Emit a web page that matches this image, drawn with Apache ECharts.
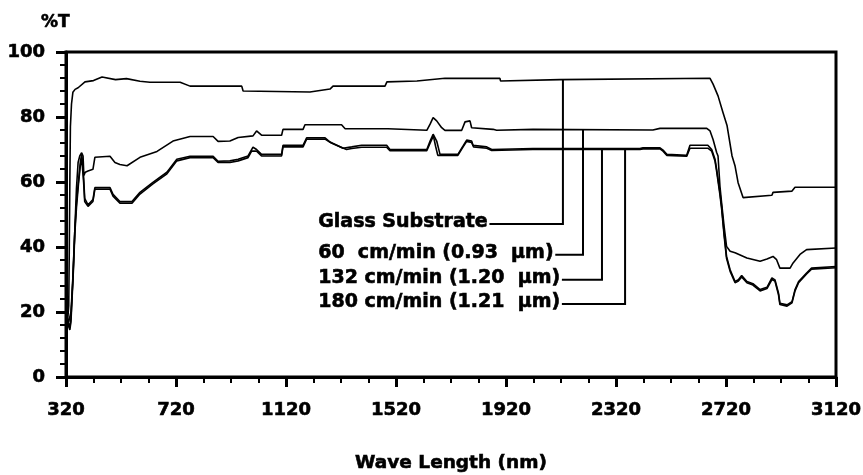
<!DOCTYPE html>
<html>
<head>
<meta charset="utf-8">
<script src="https://cdn.jsdelivr.net/npm/echarts@6/dist/echarts.min.js"></script>
<style>
  html, body { margin: 0; padding: 0; background: #fff; }
  #chart { width: 863px; height: 475px; }
</style>
</head>
<body>
<div id="chart"></div>
<script>
// Transmission spectra (%T) versus wavelength (nm)
const glassSubstrate = [
  [320,16],[324,15],[327,14.5],[330,22],[332,40],[334,60],[336,77],[340,84],[345,87.6],[353,88.5],
  [364,89],[389,90.8],[420,91.2],[451,92.3],[500,91.5],[540,91.8],[589,91],[625,90.7],[735,90.7],
  [771,89.5],[959,89.5],[964,88],[1207,87.7],[1280,88.6],[1291,89.5],[1480,89.5],[1487,90.8],
  [1596,91.1],[1698,91.9],[1898,91.9],[1900,91.1],[2116,91.5],[2662,91.9],[2673,90.1],[2691,86.5],
  [2709,81.4],[2724,77.3],[2742,68],[2753,64.9],[2764,59.8],[2782,55.2],[2887,55.9],[2891,56.8],
  [2960,57.2],[2971,58.4],[3120,58.4]
];
const rate60 = [
  [320,19],[330,17],[338,20],[345,30],[352,45],[358,58],[364,66],[370,68],[377,69],[382,68],
  [385,62],[390,63],[400,63.4],[418,63.9],[425,67.6],[480,67.9],[498,66],[516,65.4],[542,65],
  [589,67.6],[651,69.4],[709,72.6],[771,74],[855,74],[873,72.5],[916,72.6],[946,73.7],[1000,74.2],
  [1013,75.7],[1031,74.4],[1104,74.4],[1109,76.2],[1182,76.2],[1189,77.6],[1322,77.6],[1335,76.4],
  [1491,76.4],[1498,75.9],[1632,75.9],[1644,77.8],[1655,79.8],[1668,78.8],[1686,76.7],[1698,75.9],
  [1759,75.9],[1771,78.5],[1789,78.8],[1795,76.7],[1873,76.2],[1886,75.9],[2018,76.2],[2454,76],
  [2480,76.5],[2650,76.5],[2662,75.7],[2673,73.1],[2686,69.1],[2691,68],[2698,58.7],[2704,53.6],
  [2713,46.4],[2722,40.2],[2735,38.7],[2753,38.2],[2796,36.6],[2844,35.6],[2869,36.3],[2891,37.1],
  [2904,36.1],[2916,33.5],[2953,33.5],[2964,35.1],[2989,37.7],[3013,39.2],[3120,39.7]
];
const rate132 = [
  [320,20],[328,17],[334,15],[338,18],[342,25],[347,35],[352,45],[358,53.7],[365,60],[372,66],
  [377,68.5],[382,68],[384,61.7],[388,55],[400,53],[418,54.6],[425,58.3],[480,58.3],[491,56.2],
  [516,54],[560,54],[589,56.8],[636,59.9],[687,63],[723,67],[771,67.9],[855,67.9],[873,66.4],
  [916,66.5],[946,67],[982,68],[1000,70.7],[1013,70],[1031,68.5],[1104,68.5],[1109,71.3],
  [1182,71.3],[1195,73.6],[1262,73.6],[1280,72.3],[1327,70.4],[1359,70.8],[1395,71.3],[1486,71.3],
  [1498,70],[1632,70],[1644,72.6],[1655,74.7],[1668,72.6],[1680,68.5],[1745,68.5],[1764,71.1],
  [1777,72.9],[1795,72.6],[1800,71.3],[1850,70.8],[1868,70],[2018,70.3],[2407,70.3],[2418,70.5],
  [2480,70.5],[2491,69.8],[2505,68.5],[2577,68.2],[2589,71.3],[2654,71.3],[2668,70],[2680,67],
  [2686,63.9],[2698,56.8],[2704,52.6],[2713,44.4],[2722,37.1],[2735,33],[2753,29.4],[2765,29.9],
  [2777,31.2],[2796,29.4],[2818,28.7],[2844,26.9],[2869,27.6],[2887,30.5],[2898,29.9],[2911,25.8],
  [2916,22.7],[2942,22.2],[2960,23.2],[2971,26.9],[2984,29.4],[3013,32],[3031,33.5],[3120,34]
];
const rate180 = [
  [320,19],[328,16],[334,14.5],[338,17],[342,24],[347,33],[352,44],[358,52],[365,59],[372,65],
  [377,67.5],[382,67],[384,60],[388,54],[400,52.5],[418,54],[425,57.8],[480,57.8],[491,55.6],
  [516,53.5],[560,53.5],[589,56.3],[636,59.4],[687,62.5],[723,66.5],[771,67.5],[855,67.5],[873,66],
  [916,66],[946,66.5],[982,67.5],[995,69.5],[1013,69.5],[1031,68],[1104,68],[1109,70.8],[1182,70.8],
  [1195,73.2],[1262,73.2],[1285,72],[1340,70],[1359,70.3],[1395,70.7],[1486,70.7],[1498,69.6],
  [1632,69.6],[1646,72.3],[1656,74.2],[1664,71],[1672,68.2],[1745,68.2],[1764,70.8],[1777,72.5],
  [1795,72.2],[1802,70.8],[1850,70.4],[1868,69.7],[2018,70],[2407,70],[2418,70.2],[2480,70.2],
  [2491,69.5],[2505,68.2],[2577,67.9],[2589,70.4],[2654,70.4],[2668,69.5],[2680,66.5],[2686,63.3],
  [2698,56],[2704,51.8],[2713,43.6],[2722,36.5],[2735,32.5],[2753,29],[2765,29.5],[2777,30.8],
  [2796,29],[2818,28.3],[2844,26.5],[2869,27.2],[2887,30],[2898,29.5],[2911,25.3],[2916,22.3],
  [2942,21.8],[2960,22.8],[2971,26.5],[2984,29],[3013,31.7],[3031,33.2],[3120,33.6]
];

const seriesNames = ['Glass Substrate', '60  cm/min (0.93  \u03bcm)', '132 cm/min (1.20  \u03bcm)', '180 cm/min (1.21  \u03bcm)'];
const seriesData = [glassSubstrate, rate60, rate132, rate180];

// Callout layout: where each leader meets its curve (nm) and the row of each label (%T)
const leaderAtNm = [2127, 2200, 2269, 2353];
const labelRowT = [47.4, 37.9, 30.2, 22.8];
const labelLeftNm = 1236;

const FONT = '"DejaVu Sans", Verdana, sans-serif';
// A thin outline thickens the bold glyphs slightly
const heavy = { textBorderColor: '#000', textBorderWidth: 0.6 };

const chart = echarts.init(document.getElementById('chart'), null, { renderer: 'canvas' });

const option = {
  animation: false,
  backgroundColor: '#fff',
  title: {
    text: '%T',
    left: 36, top: 9,
    textStyle: Object.assign({ fontFamily: FONT, fontWeight: 'bold', fontSize: 17, color: '#000' }, heavy)
  },
  grid: {
    left: 66, right: 27, top: 52, bottom: 98,
    containLabel: false, outerBoundsMode: 'none',
    show: true, borderColor: '#000', borderWidth: 3, backgroundColor: 'transparent'
  },
  xAxis: {
    type: 'value', min: 320, max: 3120, interval: 400,
    name: 'Wave Length (nm)', nameLocation: 'middle', nameGap: 77,
    nameTextStyle: Object.assign({ fontFamily: FONT, fontWeight: 'bold', fontSize: 18.5, color: '#000' }, heavy),
    axisLine: { show: true, lineStyle: { color: '#000', width: 3 } },
    axisTick: { show: true, length: 10, lineStyle: { color: '#000', width: 3 } },
    minorTick: { show: true, splitNumber: 4, length: 6, lineStyle: { color: '#000', width: 2 } },
    axisLabel: Object.assign({
      fontFamily: FONT, fontWeight: 'bold', fontSize: 18, color: '#000', margin: 24,
      formatter: (v) => String(v)
    }, heavy),
    splitLine: { show: false }
  },
  yAxis: {
    type: 'value', min: 0, max: 100, interval: 20,
    axisLine: { show: true, lineStyle: { color: '#000', width: 3 } },
    axisTick: { show: true, length: 10, lineStyle: { color: '#000', width: 3 } },
    minorTick: { show: true, splitNumber: 5, length: 6, lineStyle: { color: '#000', width: 2 } },
    axisLabel: Object.assign({ fontFamily: FONT, fontWeight: 'bold', fontSize: 18, color: '#000', margin: 21 }, heavy),
    splitLine: { show: false }
  },
  series: seriesData.map((d, i) => ({
    name: seriesNames[i],
    type: 'line',
    data: d,
    showSymbol: false,
    symbol: 'none',
    silent: true,
    lineStyle: { color: '#000', width: 1.6 },
    z: 3
  }))
};
chart.setOption(option);

// Value of a curve at a wavelength, read along its straight segments
function curveAt(data, nm) {
  for (let i = 1; i < data.length; i++) {
    if (nm <= data[i][0]) {
      const [x0, y0] = data[i - 1], [x1, y1] = data[i];
      return y0 + (y1 - y0) * (nm - x0) / (x1 - x0);
    }
  }
  return data[data.length - 1][1];
}

const measureCtx = document.createElement('canvas').getContext('2d');
const labelFont = 'bold 19px ' + FONT;
measureCtx.font = labelFont;

const toPx = (p) => chart.convertToPixel({ xAxisIndex: 0, yAxisIndex: 0 }, p);
const graphics = [];
seriesData.forEach((d, i) => {
  const left = toPx([labelLeftNm, labelRowT[i]]);
  const textW = measureCtx.measureText(seriesNames[i]).width;
  const vx = toPx([leaderAtNm[i], 0])[0];
  const topY = toPx([leaderAtNm[i], curveAt(d, leaderAtNm[i])])[1];
  const rowY = left[1];
  graphics.push({
    type: 'text',
    left: left[0], top: rowY - 11,
    style: { text: seriesNames[i], font: labelFont, fill: '#000', stroke: '#000', lineWidth: 0.6 },
    z: 10
  });
  graphics.push({
    type: 'polyline',
    shape: { points: [[left[0] + textW + 2, rowY + 1], [vx, rowY + 1], [vx, topY]] },
    style: { stroke: '#000', lineWidth: 2, fill: null },
    z: 9
  });
});
chart.setOption({ graphic: graphics });
</script>
</body>
</html>
